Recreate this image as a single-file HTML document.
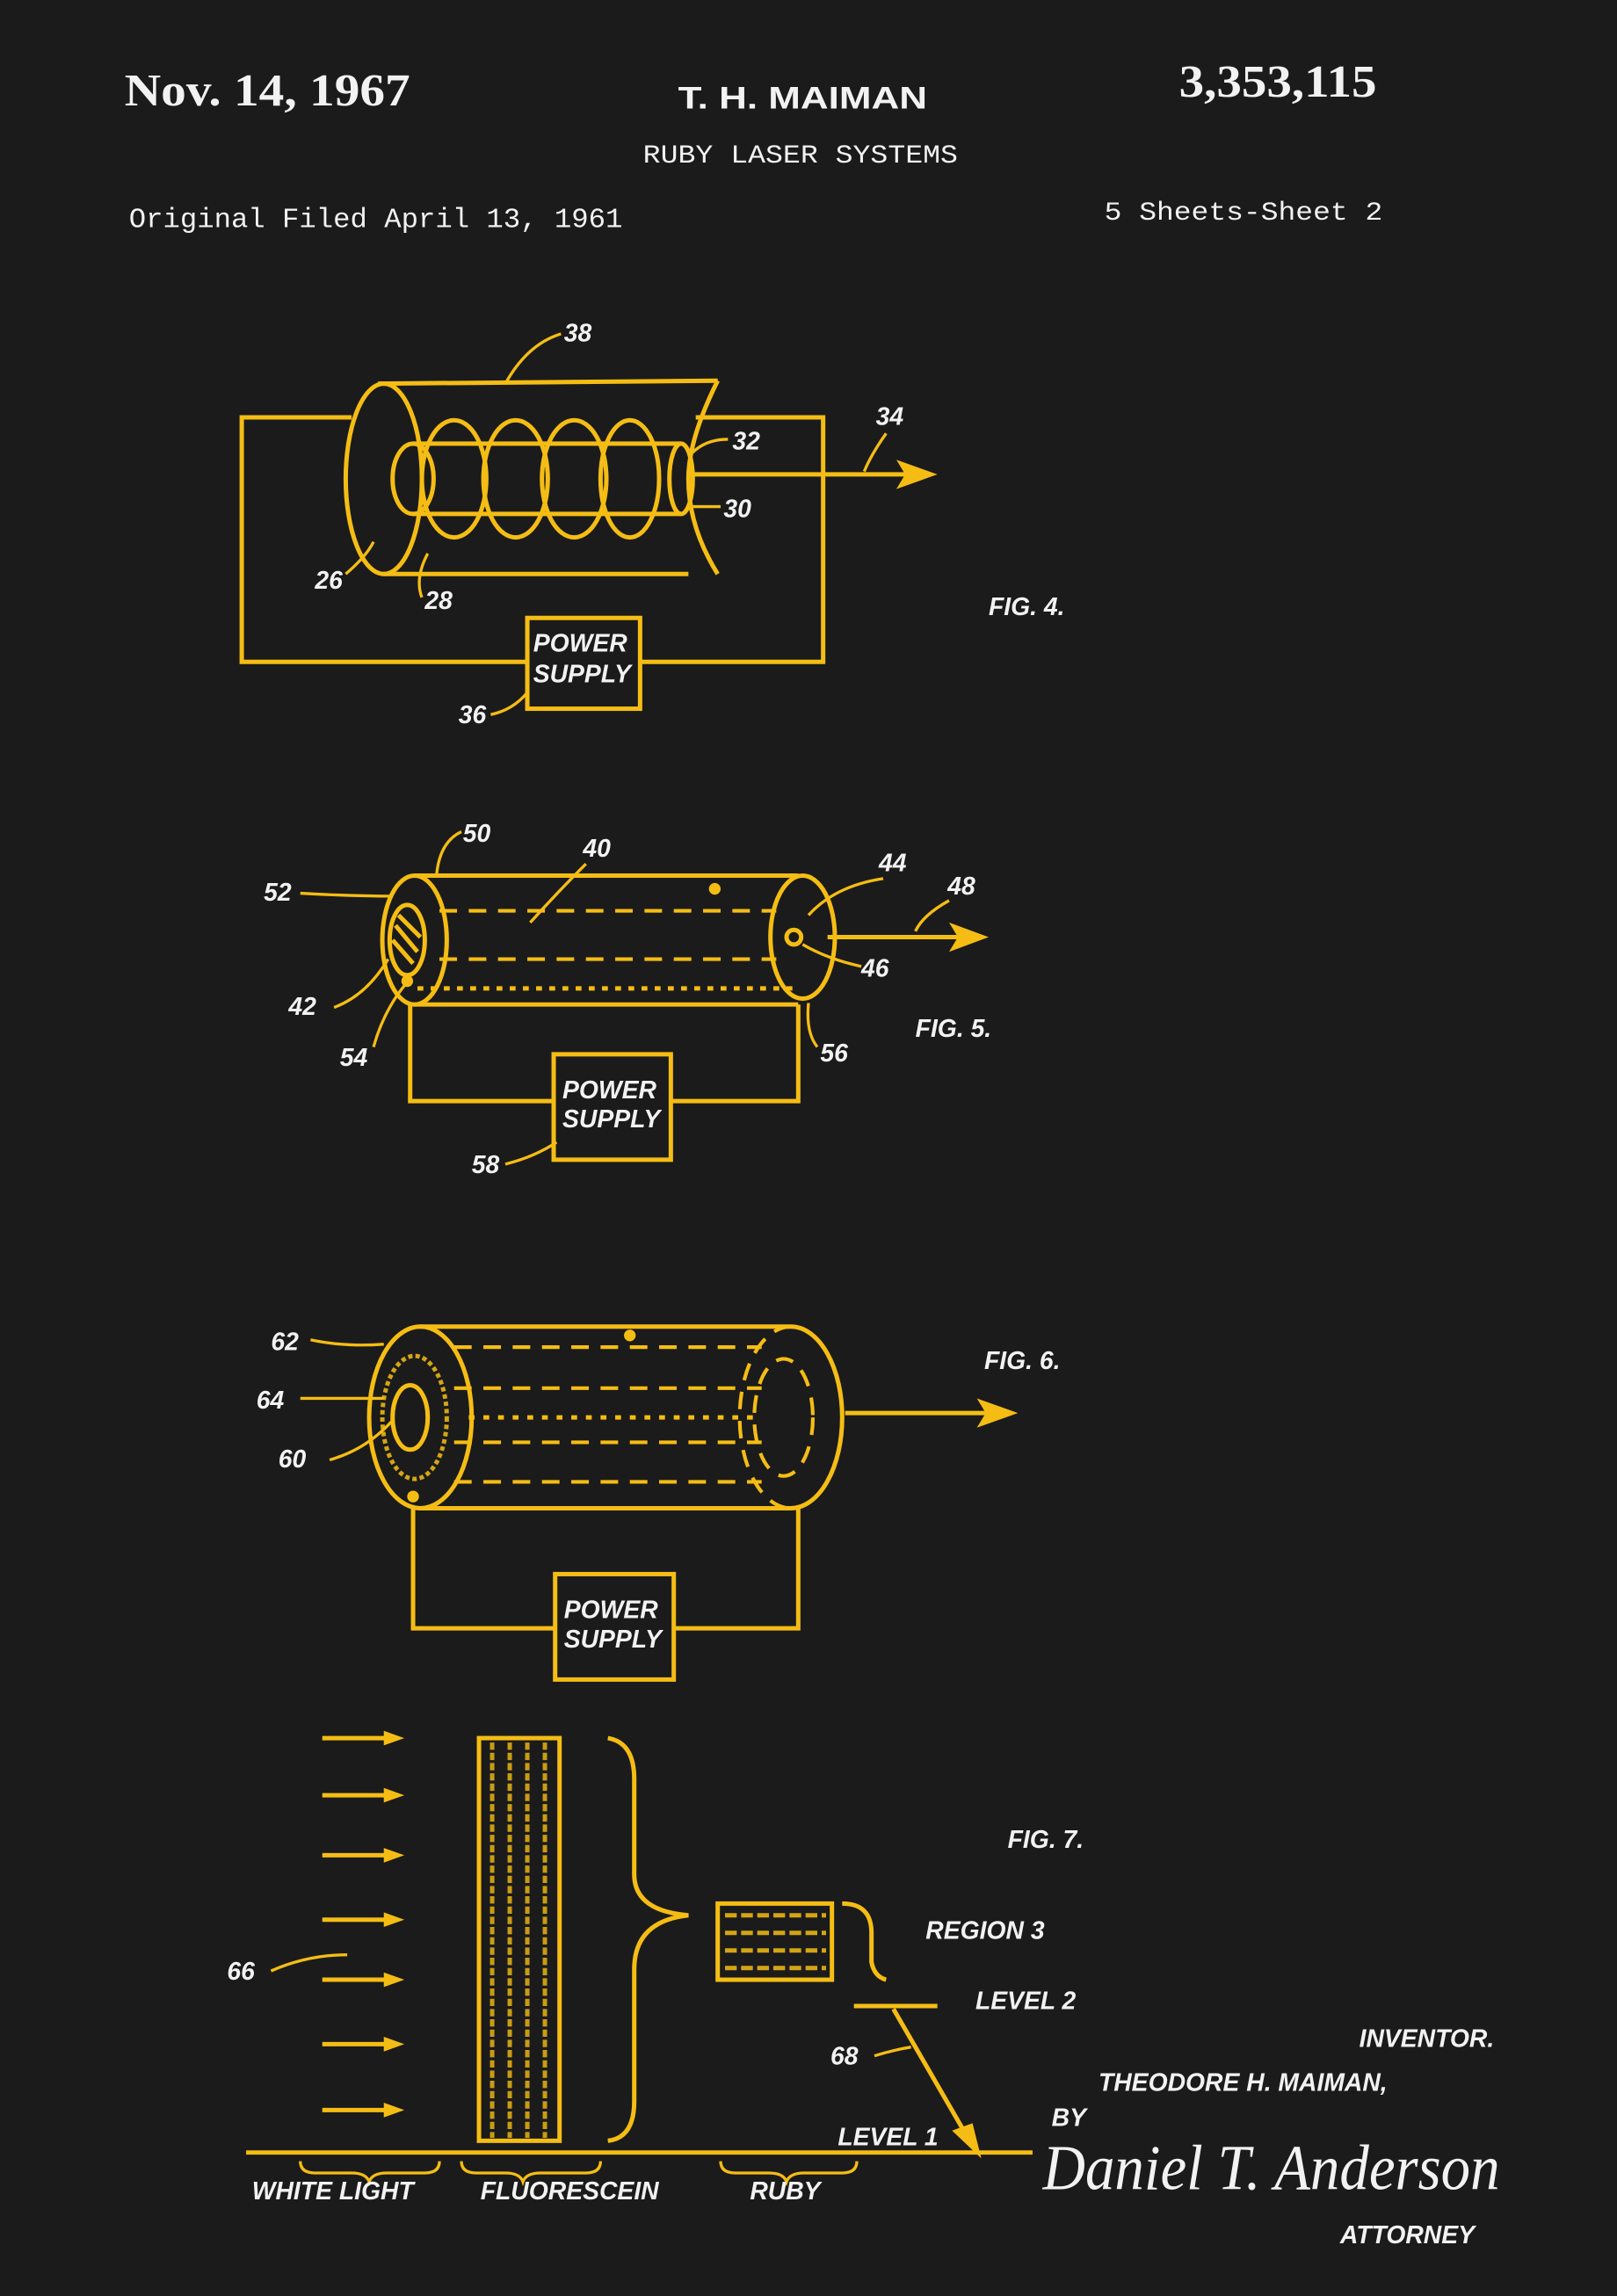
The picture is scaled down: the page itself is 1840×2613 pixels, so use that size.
<!DOCTYPE html>
<html><head><meta charset="utf-8"><style>
html,body{margin:0;padding:0;background:#1b1b1b;}
svg{display:block;}
.w{fill:#f2f2f2;}
.y{stroke:#f5bd14;fill:none;stroke-width:3;}
.yf{fill:#f5bd14;}
.lab{fill:#f2f2f2;font-family:"Liberation Sans",sans-serif;font-style:italic;font-weight:bold;font-size:17px;}
.ld{stroke:#f5bd14;fill:none;stroke-width:2;}
.dash{stroke:#f5bd14;fill:none;stroke-width:2.5;stroke-dasharray:12 8;}
</style></head><body>
<svg width="1840" height="2613" viewBox="0 0 1104 1568" xmlns="http://www.w3.org/2000/svg">
<rect width="1104" height="1568" fill="#1b1b1b"/>
<!-- header -->
<text x="85" y="72" class="w" font-family="Liberation Serif,serif" font-weight="bold" font-size="31" textLength="195" lengthAdjust="spacingAndGlyphs">Nov. 14, 1967</text>
<text x="463" y="74" class="w" font-family="Liberation Sans,sans-serif" font-weight="bold" font-size="21" textLength="170" lengthAdjust="spacingAndGlyphs">T. H. MAIMAN</text>
<text x="439" y="111" class="w" font-family="Liberation Mono,monospace" font-size="18" textLength="215" lengthAdjust="spacingAndGlyphs">RUBY LASER SYSTEMS</text>
<text x="88" y="155" class="w" font-family="Liberation Mono,monospace" font-size="19" textLength="337" lengthAdjust="spacingAndGlyphs">Original Filed April 13, 1961</text>
<text x="805" y="66" class="w" font-family="Liberation Serif,serif" font-weight="bold" font-size="31" textLength="135" lengthAdjust="spacingAndGlyphs">3,353,115</text>
<text x="754" y="150" class="w" font-family="Liberation Mono,monospace" font-size="18" textLength="190" lengthAdjust="spacingAndGlyphs">5 Sheets-Sheet 2</text>

<!-- FIG 4 -->
<polyline class="y" points="240,285 165,285 165,452 360,452"/>
<polyline class="y" points="475,285 562,285 562,452 437,452"/>
<rect x="360" y="422" width="77" height="62" class="y"/>
<text x="364" y="445" class="lab" font-size="15">POWER</text>
<text x="364" y="466" class="lab" font-size="15">SUPPLY</text>
<ellipse cx="262" cy="327" rx="26" ry="65" class="y"/>
<path class="y" stroke-width="6" d="M258,262 L490,260"/>
<path class="y" d="M262,392 L470,392"/>
<path class="y" d="M490,260 Q470,300 470,327 Q470,360 490,392"/>
<ellipse cx="282" cy="327" rx="14" ry="24" class="y" stroke-width="4"/>
<path class="y" stroke-width="4" d="M282,303 L465,303 M282,351 L465,351"/>
<ellipse cx="465" cy="327" rx="8" ry="24" class="y"/>
<g class="y" stroke-width="5">
<ellipse cx="310" cy="327" rx="22" ry="40"/>
<ellipse cx="352" cy="327" rx="22" ry="40"/>
<ellipse cx="392" cy="327" rx="22" ry="40"/>
<ellipse cx="430" cy="327" rx="20" ry="40"/>
</g>
<path class="y" stroke-width="4" d="M470,324 L625,324"/>
<polygon class="yf" points="640,324 612,314 618,324 612,334"/>
<text x="385" y="233" class="lab">38</text><path class="ld" d="M383,228 Q360,235 345,262"/>
<text x="598" y="290" class="lab">34</text><path class="ld" d="M605,296 Q595,310 590,322"/>
<text x="500" y="307" class="lab">32</text><path class="ld" d="M497,300 Q480,300 470,312"/>
<text x="494" y="353" class="lab">30</text><path class="ld" d="M492,346 L470,346"/>
<text x="215" y="402" class="lab">26</text><path class="ld" d="M236,392 Q250,380 255,370"/>
<text x="290" y="416" class="lab">28</text><path class="ld" d="M288,408 Q283,395 292,378"/>
<text x="313" y="494" class="lab">36</text><path class="ld" d="M335,488 Q350,485 360,473"/>
<text x="675" y="420" class="lab" font-size="20">FIG. 4.</text>

<!-- FIG 5 -->
<ellipse cx="283" cy="642" rx="22" ry="44" class="y" stroke-width="4"/>
<ellipse cx="278" cy="642" rx="12" ry="24" class="y"/>
<path class="y" d="M270,632 L285,650 M268,642 L282,658 M272,625 L287,640" stroke-width="2"/>
<path class="y" d="M283,598 L545,598 M283,686 L545,686"/>
<ellipse cx="548" cy="640" rx="22" ry="42" class="y"/>
<circle cx="542" cy="640" r="5" class="y" stroke-width="2"/>
<path class="dash" d="M300,622 L530,622 M300,655 L530,655"/>
<path class="y" stroke-width="5" d="M285,675 L545,675" stroke-dasharray="4 5"/>
<circle cx="488" cy="607" r="4" class="yf"/>
<circle cx="278" cy="670" r="4" class="yf"/>
<path class="y" stroke-width="4" d="M565,640 L660,640"/>
<polygon class="yf" points="675,640 648,630 654,640 648,650"/>
<polyline class="y" points="280,686 280,752 378,752"/>
<polyline class="y" points="545,686 545,752 458,752"/>
<rect x="378" y="720" width="80" height="72" class="y"/>
<text x="384" y="750" class="lab" font-size="15">POWER</text>
<text x="384" y="770" class="lab" font-size="15">SUPPLY</text>
<text x="316" y="575" class="lab">50</text><path class="ld" d="M315,568 Q300,575 298,598"/>
<text x="398" y="585" class="lab">40</text><path class="ld" d="M400,590 Q380,610 362,630"/>
<text x="180" y="615" class="lab">52</text><path class="ld" d="M205,610 Q240,612 268,612"/>
<text x="600" y="595" class="lab">44</text><path class="ld" d="M603,600 Q570,605 552,625"/>
<text x="647" y="611" class="lab">48</text><path class="ld" d="M648,615 Q630,625 625,636"/>
<text x="588" y="667" class="lab">46</text><path class="ld" d="M588,660 Q565,655 548,645"/>
<text x="197" y="693" class="lab">42</text><path class="ld" d="M228,688 Q250,680 265,655"/>
<text x="232" y="728" class="lab">54</text><path class="ld" d="M255,715 Q262,690 277,672"/>
<text x="560" y="725" class="lab">56</text><path class="ld" d="M558,715 Q550,705 552,685"/>
<text x="322" y="801" class="lab">58</text><path class="ld" d="M345,795 Q365,790 380,780"/>
<text x="625" y="708" class="lab" font-size="20">FIG. 5.</text>

<!-- FIG 6 -->
<ellipse cx="287" cy="968" rx="35" ry="62" class="y" stroke-width="5"/>
<ellipse cx="283" cy="968" rx="22" ry="42" class="y" stroke-width="16" stroke-dasharray="3 2" opacity=".85"/>
<ellipse cx="280" cy="968" rx="12" ry="22" class="y" stroke-width="3"/>
<path class="y" d="M287,906 L540,906 M287,1030 L540,1030"/>
<path class="y" d="M540,906 A35,62 0 0 1 540,1030"/>
<path class="dash" d="M540,906 A35,62 0 0 0 540,1030"/>
<ellipse cx="535" cy="968" rx="20" ry="40" class="dash"/>
<path class="dash" d="M310,920 L520,920 M310,948 L520,948 M310,985 L520,985 M310,1012 L520,1012"/>
<path class="y" stroke-width="4" d="M320,968 L520,968" stroke-dasharray="4 6"/>
<circle cx="430" cy="912" r="4" class="yf"/>
<circle cx="282" cy="1022" r="4" class="yf"/>
<path class="y" stroke-width="4" d="M577,965 L680,965"/>
<polygon class="yf" points="695,965 667,955 673,965 667,975"/>
<polyline class="y" points="282,1030 282,1112 379,1112"/>
<polyline class="y" points="545,1030 545,1112 460,1112"/>
<rect x="379" y="1075" width="81" height="72" class="y"/>
<text x="385" y="1105" class="lab" font-size="15">POWER</text>
<text x="385" y="1125" class="lab" font-size="15">SUPPLY</text>
<text x="185" y="922" class="lab">62</text><path class="ld" d="M212,915 Q235,920 262,918"/>
<text x="175" y="962" class="lab">64</text><path class="ld" d="M205,955 Q235,955 262,955"/>
<text x="190" y="1002" class="lab">60</text><path class="ld" d="M225,997 Q250,990 268,970"/>
<text x="672" y="935" class="lab" font-size="20">FIG. 6.</text>

<!-- FIG 7 -->
<g class="y" stroke-width="3">
<path d="M220,1187 L265,1187 M220,1226 L265,1226 M220,1267 L265,1267 M220,1311 L265,1311 M220,1352 L265,1352 M220,1396 L265,1396 M220,1441 L265,1441"/>
</g>
<g class="yf">
<polygon points="276,1187 262,1182 262,1192"/><polygon points="276,1226 262,1221 262,1231"/>
<polygon points="276,1267 262,1262 262,1272"/><polygon points="276,1311 262,1306 262,1316"/>
<polygon points="276,1352 262,1347 262,1357"/><polygon points="276,1396 262,1391 262,1401"/>
<polygon points="276,1441 262,1436 262,1446"/>
</g>
<rect x="327" y="1187" width="55" height="275" class="y"/>
<path class="y" stroke-width="12" stroke-dasharray="5 2" d="M336,1190 L336,1460 M348,1190 L348,1460 M360,1190 L360,1460 M372,1190 L372,1460" opacity=".8"/>
<path class="y" d="M415,1187 Q433,1190 433,1215 L433,1280 Q433,1305 470,1308 Q433,1312 433,1345 L433,1435 Q433,1460 415,1462"/>
<rect x="490" y="1300" width="78" height="52" class="y"/>
<path class="y" stroke-width="10" stroke-dasharray="8 3" d="M495,1308 L564,1308 M495,1320 L564,1320 M495,1332 L564,1332 M495,1344 L564,1344" opacity=".85"/>
<path class="y" d="M575,1300 Q595,1300 595,1320 L595,1340 Q597,1350 605,1352"/>
<path class="y" stroke-width="5" d="M583,1370 L640,1370"/>
<path class="y" stroke-width="4" d="M610,1372 L662,1462"/>
<polygon class="yf" points="670,1474 650,1455 664,1450"/>
<path class="y" d="M168,1470 L705,1470"/>
<path class="ld" d="M205,1476 Q205,1484 215,1484 L240,1484 Q250,1484 252,1490 Q254,1484 264,1484 L290,1484 Q300,1484 300,1476"/>
<path class="ld" d="M315,1476 Q315,1484 325,1484 L345,1484 Q355,1484 357,1490 Q359,1484 369,1484 L400,1484 Q410,1484 410,1476"/>
<path class="ld" d="M492,1476 Q492,1484 502,1484 L525,1484 Q535,1484 537,1490 Q539,1484 549,1484 L575,1484 Q585,1484 585,1476"/>
<text x="155" y="1352" class="lab">66</text><path class="ld" d="M185,1346 Q210,1335 237,1335"/>
<text x="567" y="1410" class="lab">68</text><path class="ld" d="M597,1404 Q610,1400 622,1398"/>
<text x="632" y="1324" class="lab" font-size="16">REGION 3</text>
<text x="666" y="1372" class="lab" font-size="16">LEVEL 2</text>
<text x="572" y="1465" class="lab" font-size="16">LEVEL 1</text>
<text x="172" y="1502" class="lab" font-size="16">WHITE LIGHT</text>
<text x="328" y="1502" class="lab" font-size="16">FLUORESCEIN</text>
<text x="512" y="1502" class="lab" font-size="16">RUBY</text>
<text x="688" y="1262" class="lab" font-size="20">FIG. 7.</text>
<text x="928" y="1398" class="lab" font-size="16">INVENTOR.</text>
<text x="750" y="1428" class="lab" font-size="19">THEODORE H. MAIMAN,</text>
<text x="718" y="1452" class="lab" font-size="14">BY</text>
<text x="712" y="1495" class="w" font-family="Liberation Serif,serif" font-style="italic" font-size="44" textLength="312" lengthAdjust="spacingAndGlyphs">Daniel T. Anderson</text>
<text x="915" y="1532" class="lab" font-size="14">ATTORNEY</text>
</svg>
</body></html>
